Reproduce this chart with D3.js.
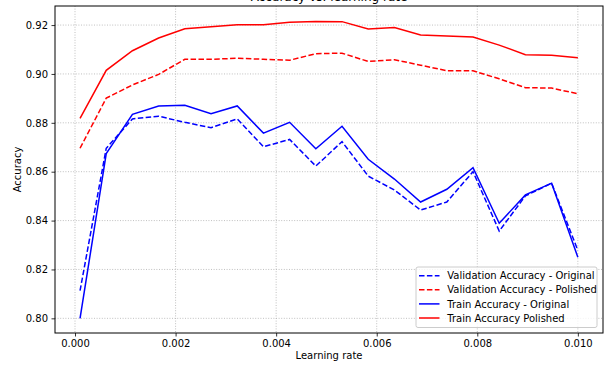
<!DOCTYPE html>
<html>
<head>
<meta charset="utf-8">
<script src="https://cdn.jsdelivr.net/npm/d3@7"></script>
<style>
  body { margin: 0; background: #fff; }
  svg { font-family: "DejaVu Sans", sans-serif; }
  .grid line { stroke: #b0b0b0; stroke-dasharray: 1,1.6; stroke-width: 0.8; }
</style>
</head>
<body>
<svg id="chart" width="614" height="383"></svg>
<script>
// learning rates tried
const learningRates = [0.0001, 0.000621, 0.001142, 0.001663, 0.002184, 0.002705, 0.003226, 0.003747, 0.004268, 0.004789,
  0.00531, 0.005831, 0.006352, 0.006873, 0.007394, 0.007915, 0.008436, 0.008957, 0.009478, 0.01];

const valOriginal = [0.8113, 0.8696, 0.8816, 0.8827, 0.8802, 0.8780, 0.8816, 0.8702, 0.8732, 0.8623,
  0.8723, 0.8582, 0.8525, 0.8443, 0.8476, 0.8600, 0.8357, 0.8501, 0.8553, 0.8278];
const valPolished = [0.8696, 0.8901, 0.8955, 0.8998, 0.9060, 0.9060, 0.9064, 0.9060, 0.9056, 0.9083,
  0.9085, 0.9051, 0.9058, 0.9036, 0.9013, 0.9013, 0.8980, 0.8944, 0.8942, 0.8919];
const trainOriginal = [0.8000, 0.8674, 0.8835, 0.8869, 0.8872, 0.8837, 0.8869, 0.8758, 0.8802, 0.8694,
  0.8786, 0.8651, 0.8570, 0.8476, 0.8528, 0.8616, 0.8389, 0.8505, 0.8553, 0.8250];
const trainPolished = [0.8818, 0.9015, 0.9095, 0.9147, 0.9185, 0.9193, 0.9201, 0.9201, 0.9212, 0.9215,
  0.9214, 0.9184, 0.9190, 0.9159, 0.9155, 0.9151, 0.9118, 0.9079, 0.9076, 0.9066];

const xTicks = [0, 0.002, 0.004, 0.006, 0.008, 0.010];
const yTicks = [0.80, 0.82, 0.84, 0.86, 0.88, 0.90, 0.92];

const series = [
  { name: 'Validation Accuracy - Original', values: valOriginal, color: 'blue', dashed: true },
  { name: 'Validation Accuracy - Polished', values: valPolished, color: 'red', dashed: true },
  { name: 'Train Accuracy - Original', values: trainOriginal, color: 'blue', dashed: false },
  { name: 'Train Accuracy Polished', values: trainPolished, color: 'red', dashed: false }
];

const margin = { top: 6, right: 11, bottom: 50, left: 55 };
const width = 614 - margin.left - margin.right;
const height = 383 - margin.top - margin.bottom;

const x = d3.scaleLinear().domain([-0.000398, 0.0105]).range([0, width]);
const y = d3.scaleLinear().domain([0.794, 0.9278]).range([height, 0]);

const svg = d3.select('#chart');
const g = svg.append('g')
  .attr('transform', 'translate(' + margin.left + ',' + margin.top + ')');

// grid
g.append('g').attr('class', 'grid')
  .selectAll('line').data(xTicks).enter().append('line')
  .attr('x1', d => x(d)).attr('x2', d => x(d))
  .attr('y1', 0).attr('y2', height);
g.append('g').attr('class', 'grid')
  .selectAll('line').data(yTicks).enter().append('line')
  .attr('x1', 0).attr('x2', width)
  .attr('y1', d => y(d)).attr('y2', d => y(d));

// lines
const line = d3.line()
  .x((d, i) => x(learningRates[i]))
  .y(d => y(d));

series.forEach(function (s) {
  g.append('path')
    .datum(s.values)
    .attr('fill', 'none')
    .attr('stroke', s.color)
    .attr('stroke-width', 1.5)
    .attr('stroke-dasharray', s.dashed ? '5.5,2.4' : null)
    .attr('d', line);
});

// axes
const xAxis = g.append('g')
  .attr('transform', 'translate(0,' + height + ')')
  .call(d3.axisBottom(x).tickValues(xTicks).tickFormat(d3.format('.3f')).tickSizeOuter(0).tickSize(3.5).tickPadding(3.5));
const yAxis = g.append('g')
  .call(d3.axisLeft(y).tickValues(yTicks).tickFormat(d3.format('.2f')).tickSizeOuter(0).tickSize(3.5).tickPadding(3.5));
[xAxis, yAxis].forEach(function (a) {
  a.select('.domain').remove();
  a.selectAll('text').attr('font-size', 10).attr('fill', '#000').attr('font-family', '"DejaVu Sans", sans-serif');
  a.selectAll('line').attr('stroke', '#000').attr('stroke-width', 0.8);
});

// frame
g.append('rect')
  .attr('width', width).attr('height', height)
  .attr('fill', 'none').attr('stroke', '#000').attr('stroke-width', 1);

// labels
svg.append('text')
  .attr('x', margin.left + width / 2).attr('y', 359)
  .attr('text-anchor', 'middle').attr('font-size', 10)
  .text('Learning rate');
svg.append('text')
  .attr('transform', 'translate(21,' + (margin.top + height / 2) + ') rotate(-90)')
  .attr('text-anchor', 'middle').attr('font-size', 10)
  .text('Accuracy');
svg.append('text')
  .attr('x', margin.left + width / 2).attr('y', 1)
  .attr('text-anchor', 'middle').attr('font-size', 12)
  .text('Accuracy vs. learning rate');

// legend
const legend = svg.append('g').attr('transform', 'translate(416,267)');
legend.append('rect')
  .attr('width', 181).attr('height', 60.5).attr('rx', 2)
  .attr('fill', '#fff').attr('fill-opacity', 0.8)
  .attr('stroke', '#ccc').attr('stroke-width', 1);
series.forEach(function (s, i) {
  const ly = 8.7 + i * 14.1;
  legend.append('line')
    .attr('x1', 3).attr('x2', 23.5).attr('y1', ly).attr('y2', ly)
    .attr('stroke', s.color).attr('stroke-width', 1.5)
    .attr('stroke-dasharray', s.dashed ? '5.5,2.4' : null);
  legend.append('text')
    .attr('x', 31.3).attr('y', ly + 3.6)
    .attr('font-size', 10)
    .text(s.name);
});
</script>
</body>
</html>
